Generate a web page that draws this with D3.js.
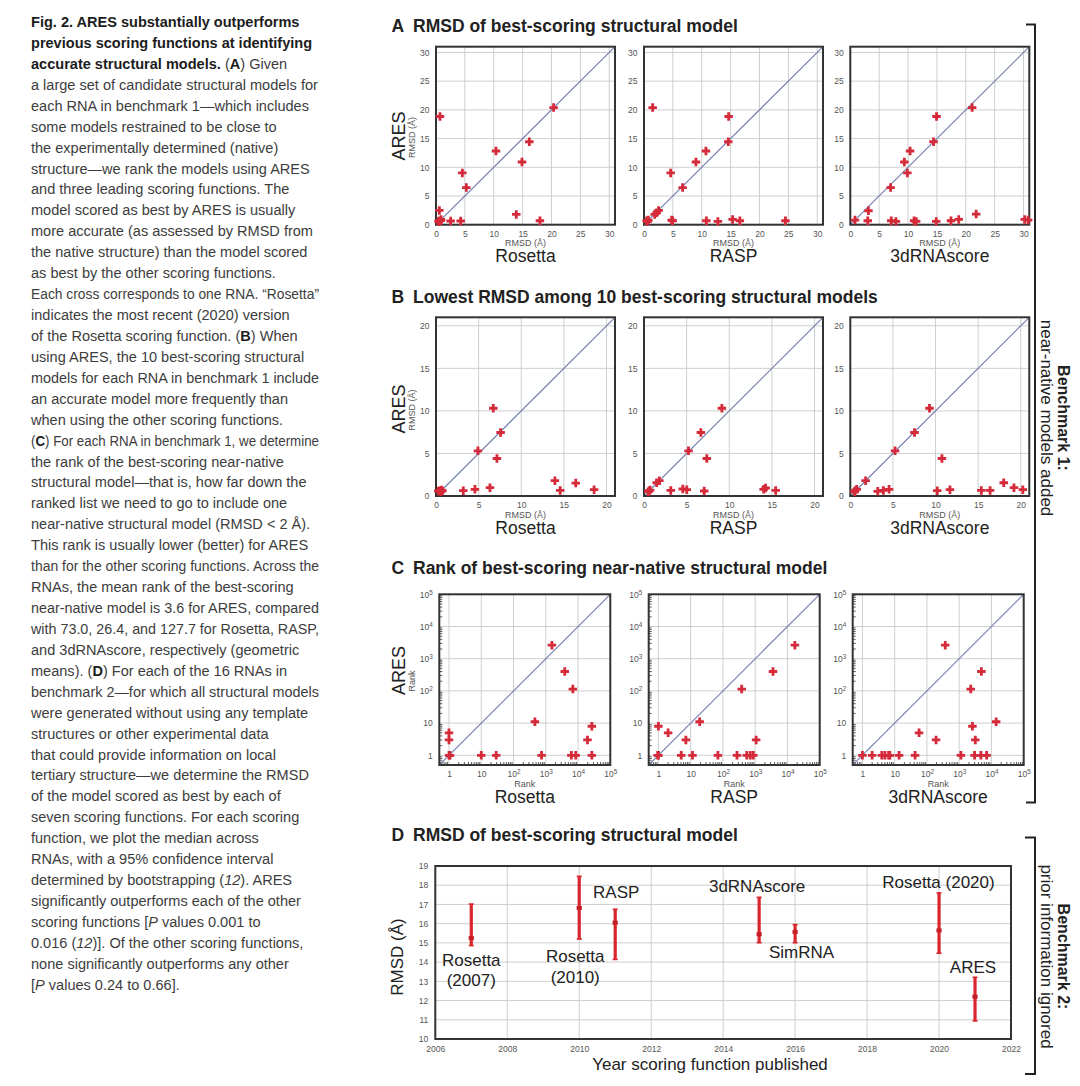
<!DOCTYPE html>
<html><head><meta charset="utf-8">
<script src="https://cdn.jsdelivr.net/npm/d3@7"></script>
<style>
body{margin:0;background:#fff}
svg{display:block}
text{font-family:"Liberation Sans",Arial,Helvetica,sans-serif}
</style>
</head><body>
<svg id="fig" width="1080" height="1086"></svg>
<script>
// ---------------- DATA ----------------
const scorerNames = ["Rosetta", "RASP", "3dRNAscore"];
// Panel A: [other scorer RMSD, ARES RMSD]
const rosettaA = [[0.69,18.84],[0.58,2.49],[0.46,0.64],[0.87,0.92],[0.8,0.7],[0.5,0.5],[2.54,0.64],[4.27,0.64],[4.56,9.02],[5.25,6.47],[10.39,12.83],[13.9,1.79],[14.89,10.92],[16.16,14.45],[18.0,0.69],[20.37,20.4]];
const raspA = [[1.5,20.4],[14.66,18.84],[14.6,14.45],[10.73,12.83],[9.0,10.92],[4.62,9.02],[6.69,6.47],[2.54,2.49],[1.85,1.79],[2.2,2.1],[0.75,0.81],[0.46,0.69],[0.6,0.55],[4.79,0.81],[4.96,0.69],[10.8,0.69],[12.8,0.58],[15.35,0.92],[16.6,0.69],[24.5,0.69]];
const rnascoreA = [[0.81,0.81],[3.14,2.43],[3.02,0.69],[6.98,6.47],[7.09,0.69],[7.9,0.58],[9.36,10.92],[9.88,9.02],[10.35,12.83],[11.05,0.69],[11.4,0.58],[14.42,14.45],[14.94,18.84],[14.88,0.58],[17.44,0.69],[18.78,0.92],[21.1,20.4],[21.8,1.85],[30.2,0.92],[30.8,0.81]];
// Panel B
const rosettaB = [[0.27,0.59],[0.47,0.63],[0.66,0.7],[0.55,0.5],[0.75,0.6],[3.2,0.63],[4.57,0.78],[6.33,0.98],[6.72,10.31],[7.58,7.46],[4.92,5.31],[7.15,4.41],[13.95,1.8],[14.57,0.66],[16.4,1.52],[18.55,0.74]];
const raspB = [[0.51,0.51],[0.71,0.7],[0.6,0.6],[1.49,1.56],[1.8,1.8],[3.14,0.66],[4.55,0.82],[5.02,0.74],[7.06,0.59],[9.14,10.31],[6.67,7.46],[5.22,5.31],[7.37,4.41],[14.04,0.78],[14.27,0.94],[15.45,0.66]];
const rnascoreB = [[0.55,0.63],[0.75,0.78],[0.5,0.5],[1.8,1.8],[3.22,0.55],[3.88,0.66],[4.55,0.78],[5.25,5.31],[7.53,7.46],[9.29,10.31],[10.2,0.63],[10.75,4.41],[11.69,0.74],[15.37,0.66],[16.4,0.66],[18.0,1.56],[19.2,0.98],[20.24,0.74]];
// Panel C: [other scorer rank, ARES rank]
const rosettaC = [[1,5],[1,3],[1,1],[1.07,1],[10,1],[29,1],[460,11],[740,1],[1550,2630],[3870,400],[6900,114],[6200,1],[8500,1],[19600,3],[26800,8],[26800,1]];
const raspC = [[1,8],[1,1],[0.95,1],[2,5],[5.1,1],[7.1,3],[11.4,1],[19,11],[70,1],[273,1],[382,114],[550,1],[705,1],[875,1],[1070,3],[3560,400],[17000,2630]];
const rnascoreC = [[1,1],[2,1],[4,1],[5,1],[6.5,1],[7.1,1],[13.7,1],[43,1],[57,5],[192,3],[370,2630],[1130,1],[2280,114],[2570,8],[3160,3],[3000,1],[4700,1],[4880,400],[7100,1],[14000,11]];
// Tick values
const ticksA = [0,5,10,15,20,25,30];
const ticksB = [0,5,10,15,20];
const ticksC = [1,10,100,1000,10000,100000];
const ticksDx = [2006,2008,2010,2012,2014,2016,2018,2020,2022];
const ticksDy = [10,11,12,13,14,15,16,17,18,19];
// Panel D
const dNames = [["Rosetta","(2007)"],["Rosetta","(2010)"],["RASP"],["3dRNAscore"],["SimRNA"],["Rosetta (2020)"],["ARES"]];
const dYears = [2007,2010,2011,2015,2016,2020,2021];
const dMedian = [15.25,16.82,16.05,15.45,15.57,15.65,12.2];
const dLow = [14.86,15.2,14.14,15.01,15.01,14.46,10.94];
const dHigh = [17.02,18.46,16.75,17.37,15.95,17.6,13.21];
// Texts
const panelTitles = [["A","RMSD of best-scoring structural model"],["B","Lowest RMSD among 10 best-scoring structural models"],["C","Rank of best-scoring near-native structural model"],["D","RMSD of best-scoring structural model"]];
const captionLines = [
"*Fig. 2. ARES substantially outperforms*",
"*previous scoring functions at identifying*",
"*accurate structural models.* (*A*) Given",
"a large set of candidate structural models for",
"each RNA in benchmark 1—which includes",
"some models restrained to be close to",
"the experimentally determined (native)",
"structure—we rank the models using ARES",
"and three leading scoring functions. The",
"model scored as best by ARES is usually",
"more accurate (as assessed by RMSD from",
"the native structure) than the model scored",
"as best by the other scoring functions.",
"Each cross corresponds to one RNA. “Rosetta”",
"indicates the most recent (2020) version",
"of the Rosetta scoring function. (*B*) When",
"using ARES, the 10 best-scoring structural",
"models for each RNA in benchmark 1 include",
"an accurate model more frequently than",
"when using the other scoring functions.",
"(*C*) For each RNA in benchmark 1, we determine",
"the rank of the best-scoring near-native",
"structural model—that is, how far down the",
"ranked list we need to go to include one",
"near-native structural model (RMSD < 2 Å).",
"This rank is usually lower (better) for ARES",
"than for the other scoring functions. Across the",
"RNAs, the mean rank of the best-scoring",
"near-native model is 3.6 for ARES, compared",
"with 73.0, 26.4, and 127.7 for Rosetta, RASP,",
"and 3dRNAscore, respectively (geometric",
"means). (*D*) For each of the 16 RNAs in",
"benchmark 2—for which all structural models",
"were generated without using any template",
"structures or other experimental data",
"that could provide information on local",
"tertiary structure—we determine the RMSD",
"of the model scored as best by each of",
"seven scoring functions. For each scoring",
"function, we plot the median across",
"RNAs, with a 95% confidence interval",
"determined by bootstrapping (_12_). ARES",
"significantly outperforms each of the other",
"scoring functions [_P_ values 0.001 to",
"0.016 (_12_)]. Of the other scoring functions,",
"none significantly outperforms any other",
"[_P_ values 0.24 to 0.66]."
];

// ---------------- DRAWING ----------------
const svg = d3.select("#fig");
const RED = "#d42a3a", GRID = "#c9c9c9", BOX = "#333", DIAG = "#6f7caf", TICK = "#555", BAR = "#d9252e";

// Caption
const cap = svg.append("g");
captionLines.forEach((ln, i) => {
  const t = cap.append("text").attr("x", 0).attr("y", 27 + i * 20.93)
    .attr("font-family", '"Liberation Sans Narrow","Liberation Sans",Arial,sans-serif')
    .attr("font-size", 14.5).attr("fill", "#3d3d3d");
  ln.split(/(\*[^*]+\*|_[^_]+_)/).filter(s => s).forEach(seg => {
    const sp = t.append("tspan");
    if (seg[0] === "*") sp.text(seg.slice(1, -1)).attr("font-weight", "bold").attr("fill", "#1c1c1c");
    else if (seg[0] === "_") sp.text(seg.slice(1, -1)).attr("font-style", "italic");
    else sp.text(seg);
  });
});
const capNodes = cap.selectAll("text").nodes();
const sx = 287 / capNodes[3].getComputedTextLength();
cap.attr("transform", `translate(31,0) scale(${sx},1)`);
const maxW = 288 / sx;
capNodes.forEach(n => {
  const wdt = n.getComputedTextLength();
  if (wdt > maxW) d3.select(n).attr("textLength", maxW).attr("lengthAdjust", "spacingAndGlyphs");
});

// Panel titles
const titleY = [31.5, 303, 573.5, 841];
panelTitles.forEach((p, i) => {
  svg.append("text").attr("x", 391.5).attr("y", titleY[i]).attr("font-weight", "bold")
    .attr("font-size", 17.5).attr("fill", "#222").text(p[0]);
  svg.append("text").attr("x", 413).attr("y", titleY[i]).attr("font-weight", "bold")
    .attr("font-size", 17.5).attr("fill", "#222").text(p[1]);
});

function supFormat(sel) {
  sel.each(function(d) {
    const e = Math.round(Math.log10(d));
    const t = d3.select(this);
    if (e === 0) t.text("1");
    else if (e === 1) t.text("10");
    else { t.text("10"); t.append("tspan").attr("dy", "-0.45em").attr("font-size", "0.75em").text(e); }
  });
}

function scatter(cfg) {
  const {left, top, w, h, domain, log, ticks, data, name, unit, showY, yUnit, yCenter} = cfg;
  const x = (log ? d3.scaleLog() : d3.scaleLinear()).domain(domain).range([left, left + w]);
  const y = (log ? d3.scaleLog() : d3.scaleLinear()).domain(domain).range([top + h, top]);
  const g = svg.append("g");
  g.append("g").selectAll("line").data(ticks).join("line")
    .attr("x1", d => x(d)).attr("x2", d => x(d)).attr("y1", top).attr("y2", top + h)
    .attr("stroke", GRID).attr("stroke-width", 0.9);
  g.append("g").selectAll("line").data(ticks).join("line")
    .attr("y1", d => y(d)).attr("y2", d => y(d)).attr("x1", left).attr("x2", left + w)
    .attr("stroke", GRID).attr("stroke-width", 0.9);
  if (log) {
    const minors = [];
    [0.1, 1, 10, 100, 1000, 10000].forEach(b => { for (let k = 2; k <= 9; k++) { const v = b * k; if (v > domain[0] && v < domain[1]) minors.push(v); } });
    g.append("g").selectAll("line").data(minors).join("line")
      .attr("x1", d => x(d)).attr("x2", d => x(d)).attr("y1", top + h).attr("y2", top + h - 3)
      .attr("stroke", BOX).attr("stroke-width", 0.8);
    g.append("g").selectAll("line").data(minors).join("line")
      .attr("y1", d => y(d)).attr("y2", d => y(d)).attr("x1", left).attr("x2", left + 3)
      .attr("stroke", BOX).attr("stroke-width", 0.8);
  }
  g.append("line").attr("x1", x(domain[0])).attr("y1", y(domain[0])).attr("x2", x(domain[1])).attr("y2", y(domain[1]))
    .attr("stroke", DIAG).attr("stroke-width", 1.1);
  const ax = g.append("g").attr("transform", `translate(0,${top + h})`)
    .call(d3.axisBottom(x).tickValues(ticks).tickSize(0).tickPadding(log ? 5.5 : 6).tickFormat(d3.format("d")));
  const ay = g.append("g").attr("transform", `translate(${left},0)`)
    .call(d3.axisLeft(y).tickValues(ticks).tickSize(0).tickPadding(6.5).tickFormat(d3.format("d")));
  [ax, ay].forEach(a => {
    a.select(".domain").remove();
    a.attr("font-family", null).attr("font-size", 8.5);
    a.selectAll("text").attr("fill", TICK);
    if (log) supFormat(a.selectAll(".tick text"));
  });
  g.append("rect").attr("x", left).attr("y", top).attr("width", w).attr("height", h)
    .attr("fill", "none").attr("stroke", BOX).attr("stroke-width", 2);
  g.append("g").selectAll("path").data(data).join("path")
    .attr("d", d3.symbol(d3.symbolCross, 40))
    .attr("transform", d => `translate(${x(d[0])},${y(d[1])})`)
    .attr("fill", RED);
  const cx = left + w / 2;
  g.append("text").attr("x", cx).attr("y", top + h + 21.5).attr("text-anchor", "middle")
    .attr("font-size", 9).attr("fill", TICK).text(unit);
  g.append("text").attr("x", cx).attr("y", top + h + 37.5).attr("text-anchor", "middle")
    .attr("font-size", 17.5).attr("fill", "#222").text(name);
  if (showY) {
    g.append("text").attr("transform", `translate(405,${yCenter[0]}) rotate(-90)`).attr("text-anchor", "middle")
      .attr("font-size", 18).attr("fill", "#222").text("ARES");
    g.append("text").attr("transform", `translate(415,${yCenter[1]}) rotate(-90)`).attr("text-anchor", "middle")
      .attr("font-size", 9).attr("fill", TICK).text(yUnit);
  }
}

const lefts = [436, 644, 850.3];
const leftsC = [439.3, 648.7, 852.7];
const dataA = [rosettaA, raspA, rnascoreA];
const dataB = [rosettaB, raspB, rnascoreB];
const dataC = [rosettaC, raspC, rnascoreC];
scorerNames.forEach((nm, i) => {
  scatter({left: lefts[i], top: 46.7, w: 179, h: 178, domain: [0, 31], log: false, ticks: ticksA,
    data: dataA[i], name: nm, unit: "RMSD (Å)", showY: i === 0, yUnit: "RMSD (Å)", yCenter: [136, 137.5]});
  scatter({left: lefts[i], top: 317.3, w: 179, h: 178.7, domain: [0, 21], log: false, ticks: ticksB,
    data: dataB[i], name: nm, unit: "RMSD (Å)", showY: i === 0, yUnit: "RMSD (Å)", yCenter: [409, 410]});
  scatter({left: leftsC[i], top: 594.3, w: 171, h: 170.7, domain: [0.5, 100000], log: true, ticks: ticksC,
    data: dataC[i], name: nm, unit: "Rank", showY: i === 0, yUnit: "Rank", yCenter: [670.5, 681]});
});

// Panel D
(function() {
  const left = 435.3, right = 1011, top = 866, bottom = 1039;
  const x = d3.scaleLinear().domain([2006, 2022]).range([left, right]);
  const y = d3.scaleLinear().domain([10, 19]).range([bottom, top]);
  const g = svg.append("g");
  g.append("g").selectAll("line").data(ticksDx).join("line")
    .attr("x1", d => x(d)).attr("x2", d => x(d)).attr("y1", top).attr("y2", bottom)
    .attr("stroke", GRID).attr("stroke-width", 0.9);
  g.append("g").selectAll("line").data(ticksDy).join("line")
    .attr("y1", d => y(d)).attr("y2", d => y(d)).attr("x1", left).attr("x2", right)
    .attr("stroke", GRID).attr("stroke-width", 0.9);
  const ax = g.append("g").attr("transform", `translate(0,${bottom})`)
    .call(d3.axisBottom(x).tickValues(ticksDx).tickSize(0).tickPadding(6.5).tickFormat(d3.format("d")));
  const ay = g.append("g").attr("transform", `translate(${left},0)`)
    .call(d3.axisLeft(y).tickValues(ticksDy).tickSize(0).tickPadding(7).tickFormat(d3.format("d")));
  [ax, ay].forEach(a => {
    a.select(".domain").remove();
    a.attr("font-family", null).attr("font-size", 8.5);
    a.selectAll("text").attr("fill", TICK);
  });
  g.append("rect").attr("x", left).attr("y", top).attr("width", right - left).attr("height", bottom - top)
    .attr("fill", "none").attr("stroke", BOX).attr("stroke-width", 2);
  const idx = d3.range(dYears.length);
  g.append("g").selectAll("line").data(idx).join("line")
    .attr("x1", i => x(dYears[i])).attr("x2", i => x(dYears[i]))
    .attr("y1", i => y(dLow[i])).attr("y2", i => y(dHigh[i]))
    .attr("stroke", BAR).attr("stroke-width", 3.2);
  ["low", "high"].forEach(k => {
    g.append("g").selectAll("line").data(idx).join("line")
      .attr("x1", i => x(dYears[i]) - 2.5).attr("x2", i => x(dYears[i]) + 2.5)
      .attr("y1", i => y(k === "low" ? dLow[i] : dHigh[i])).attr("y2", i => y(k === "low" ? dLow[i] : dHigh[i]))
      .attr("stroke", BAR).attr("stroke-width", 1.6);
  });
  g.append("g").selectAll("rect").data(idx).join("rect")
    .attr("x", i => x(dYears[i]) - 2.6).attr("y", i => y(dMedian[i]) - 2).attr("width", 5.2).attr("height", 4)
    .attr("fill", "#c41e28");
  // labels: offset in px from year position and anchor value in RMSD units
  const lblDx = [0, -4, 1, -2, 6.4, -0.6, -2];
  const lblV = [13.82, 13.99, 17.31, 17.65, 14.21, 17.87, 13.43];
  g.append("g").selectAll("text").data(idx).join("text")
    .attr("text-anchor", "middle").attr("font-size", 17).attr("fill", "#222")
    .each(function(i) {
      const t = d3.select(this);
      dNames[i].forEach((s, j) => {
        t.append("tspan").attr("x", x(dYears[i]) + lblDx[i]).attr("y", y(lblV[i]) + j * 20.5).text(s);
      });
    });
  g.append("text").attr("transform", `translate(402.5,957) rotate(-90)`).attr("text-anchor", "middle")
    .attr("font-size", 17).attr("fill", "#222").text("RMSD (Å)");
  g.append("text").attr("x", 710).attr("y", 1070).attr("text-anchor", "middle")
    .attr("font-size", 17).attr("fill", "#222").text("Year scoring function published");
})();

// Brackets
svg.append("path").attr("d", "M1026,24.5H1035V802.5H1026").attr("fill", "none").attr("stroke", "#222").attr("stroke-width", 2);
svg.append("path").attr("d", "M1025,837.5H1035V1074H1025").attr("fill", "none").attr("stroke", "#222").attr("stroke-width", 2);
[[418, "Benchmark 1:", "near-native models added"], [956.5, "Benchmark 2:", "prior information ignored"]].forEach(b => {
  svg.append("text").attr("transform", `translate(1058,${b[0]}) rotate(90)`).attr("text-anchor", "middle")
    .attr("font-weight", "bold").attr("font-size", 16).attr("fill", "#222").text(b[1]);
  svg.append("text").attr("transform", `translate(1041,${b[0]}) rotate(90)`).attr("text-anchor", "middle")
    .attr("font-size", 17).attr("fill", "#222").text(b[2]);
});
</script>
</body></html>
